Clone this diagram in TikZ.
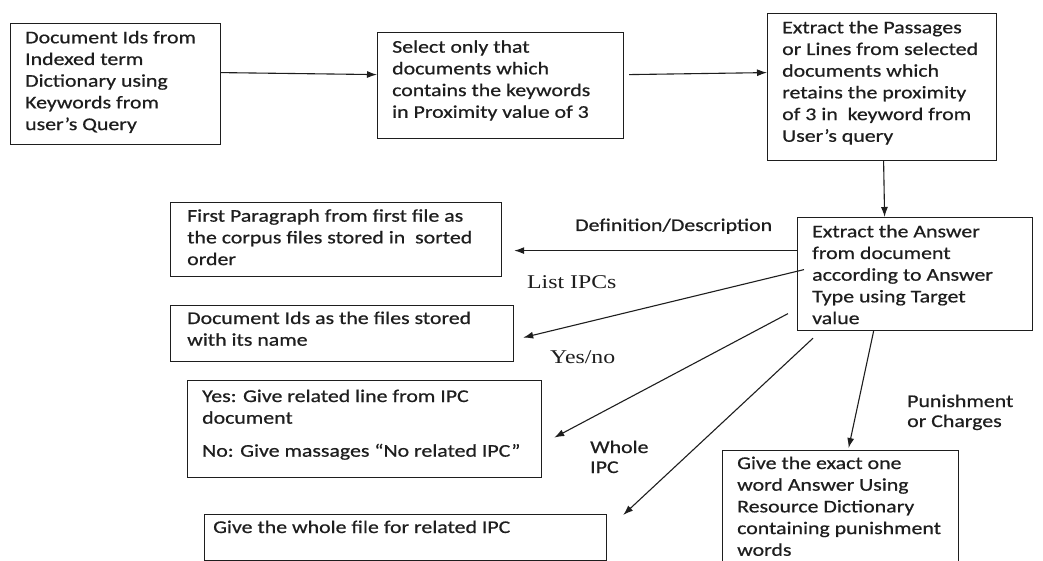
\documentclass[tikz,border=0pt]{standalone}
\usepackage{fontspec}
\setmainfont{Carlito}[FakeStretch=1.22,FakeBold=0.6]
\newfontfamily\labserif{Liberation Serif}[FakeStretch=1.22]
\usetikzlibrary{arrows.meta,calc}
\definecolor{txtc}{RGB}{30,30,30}
\definecolor{linec}{RGB}{30,30,30}
\newcommand\mlines[1]{\vtop{\halign{##\hfil\cr#1\crcr}}}
\begin{document}
\begin{tikzpicture}[x=1pt,y=-1pt,
  font=\fontsize{17.9}{21.7}\selectfont,
  box/.style={draw=linec,line width=1.2pt,inner sep=0pt,anchor=north west},
  txt/.style={anchor=base west,inner sep=0pt,text=txtc},
  lab/.style={anchor=base west,inner sep=0pt,text=txtc},
  slab/.style={anchor=base west,inner sep=0pt,text=txtc,font=\labserif\fontsize{19.5}{22}\selectfont},
  arr/.style={draw=linec,line width=1.1pt,-{Latex[length=10pt,width=7pt]}}]
\useasboundingbox (0,0) rectangle (1043,561);
\clip (0,0) rectangle (1043,561);
\fill[white] (0,0) rectangle (1043,561);
% boxes
\node[box,minimum width=210pt,minimum height=121pt] (b1) at (10,23) {};
\node[box,minimum width=246pt,minimum height=106pt] (b2) at (377,32) {};
\node[box,minimum width=229pt,minimum height=147pt] (b3) at (767,13) {};
\node[box,minimum width=235pt,minimum height=113pt] (b4) at (797,217) {};
\node[box,minimum width=331pt,minimum height=74pt] (b5) at (170,202) {};
\node[box,minimum width=343pt,minimum height=56pt] (b6) at (170,305) {};
\node[box,minimum width=354pt,minimum height=97pt] (b7) at (187,380) {};
\node[box,minimum width=402pt,minimum height=46pt] (b8) at (204,514) {};
\node[box,minimum width=236pt,minimum height=130pt] (b9) at (722,450) {};
% box texts
\node[txt] (t1) at (25,43.3) {\mlines{Document Ids from\cr Indexed term\cr Dictionary using\cr Keywords from\cr user’s Query}};
\node[txt] (t2) at (392,52.7) {\mlines{Select only that\cr documents which\cr contains the keywords\cr in Proximity value of 3}};
\node[txt] (t3) at (782,33.3) {\mlines{Extract the Passages\cr or Lines from selected\cr documents which\cr retains the proximity\cr of 3 in \ keyword from\cr User’s query}};
\node[txt] (t4) at (812,237.3) {\mlines{Extract the Answer\cr from document\cr according to Answer\cr Type using Target\cr value}};
\node[txt] (t5) at (187,221.7) {\mlines{First Paragraph from first file as\cr the corpus files stored in \ sorted\cr order}};
\node[txt] (t6) at (187,324) {\mlines{Document Ids as the files stored\cr with its name}};
\node[txt] (t7) at (202,402) {\mlines{Yes: Give related line from IPC\cr document\cr\noalign{\vskip 11.3pt}No: Give massages “No related IPC”}};
\node[txt] (t8) at (213,533) {Give the whole file for related IPC};
\node[txt] (t9) at (737,469) {\mlines{Give the exact one\cr word Answer Using\cr Resource Dictionary\cr containing punishment\cr words}};
% labels
\node[lab] (l1) at (575,231) {Definition/Description};
\node[slab] (l2) at (527,288) {List IPCs};
\node[slab] (l3) at (550,363) {Yes/no};
\node[lab,font=\fontsize{17.9}{20}\selectfont] (l4) at (590,453) {\mlines{Whole\cr IPC}};
\node[lab,font=\fontsize{17.9}{20}\selectfont] (l5) at (907,407) {\mlines{Punishment\cr or Charges}};
% connectors
\draw[arr] ([yshift=11.5pt]b1.east) -- ([yshift=11pt]b2.west);
\draw[arr] ([xshift=5pt,yshift=11pt]b2.east) -- ([yshift=14.5pt]b3.west);
\draw[arr] ([xshift=1.5pt]b3.south) -- ([xshift=-30.5pt]b4.north);
\draw[arr] ([yshift=23.5pt]b4.west) -- ([xshift=12pt,yshift=-11pt]b5.east);
\draw[arr] ([xshift=7pt,yshift=4.5pt]b4.west) -- ([xshift=9pt,yshift=-4pt]b6.east);
\draw[arr] ([xshift=-9pt,yshift=-39.5pt]b4.west) -- ([xshift=12pt,yshift=-8.5pt]b7.east);
\draw[arr] ([xshift=16pt,yshift=-7pt]b4.south west) -- ([xshift=16pt,yshift=-1pt]b8.north east);
\draw[arr] ([xshift=-41.5pt]b4.south) -- ([xshift=8pt,yshift=2pt]b9.north);
\end{tikzpicture}
\end{document}
